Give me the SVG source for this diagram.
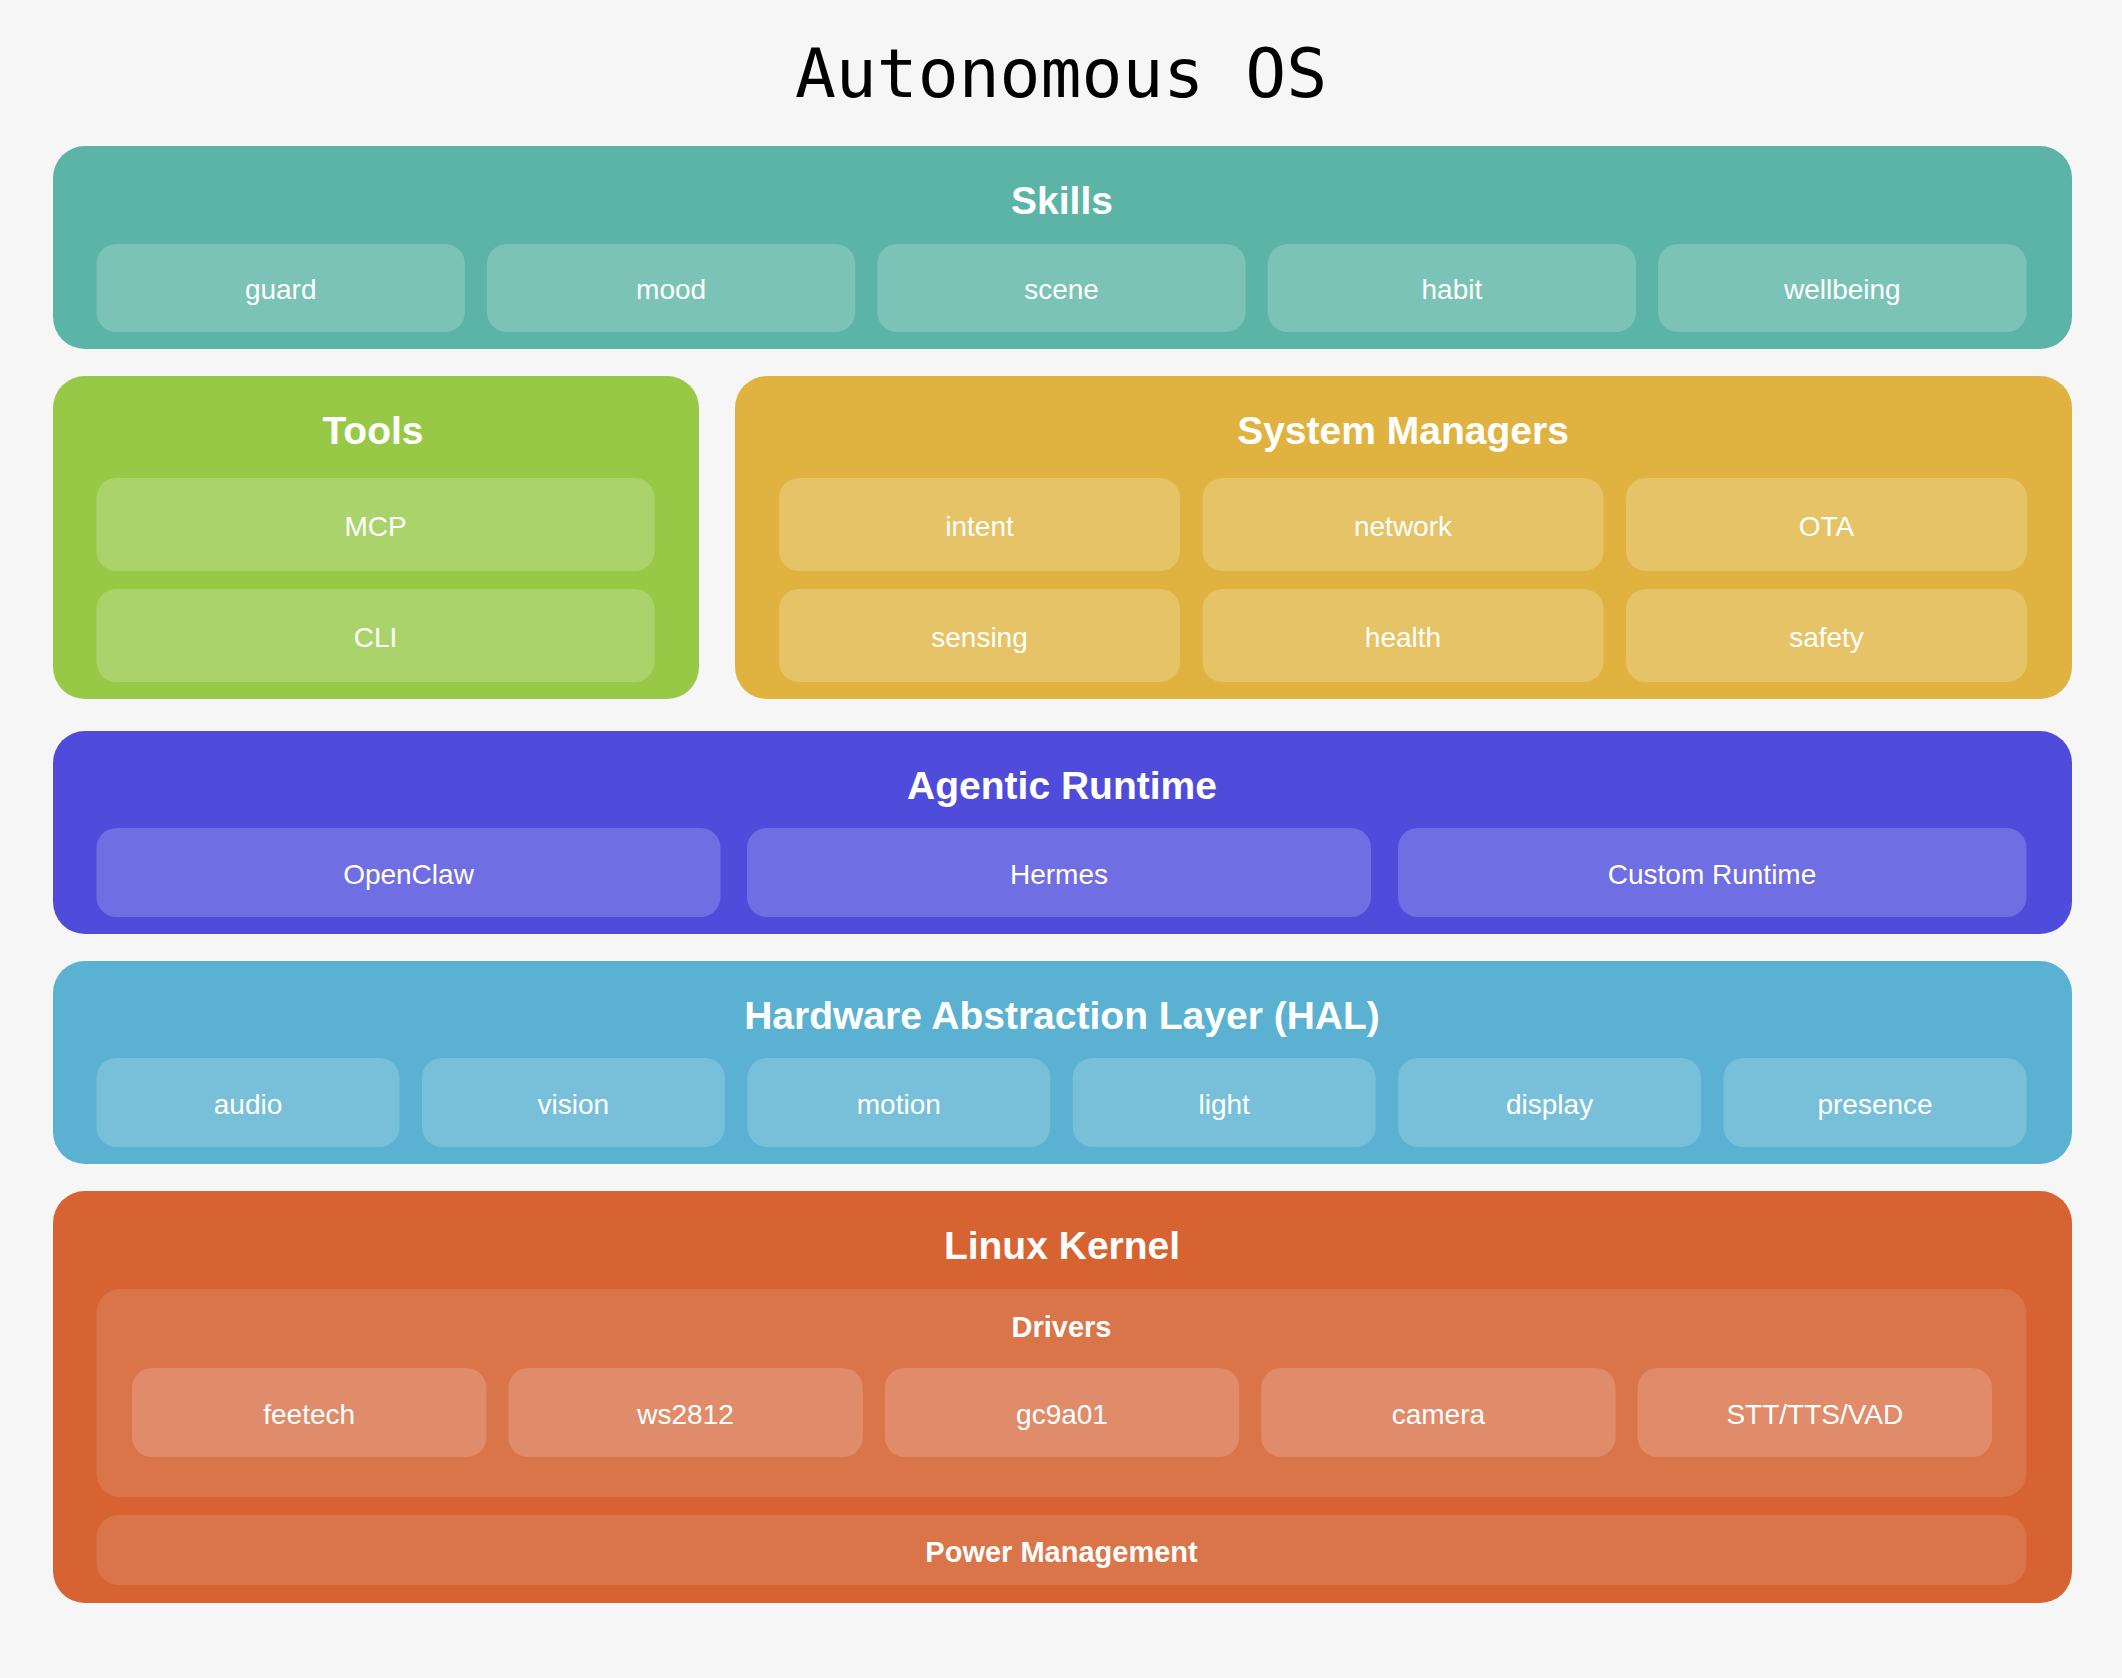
<svg xmlns="http://www.w3.org/2000/svg" width="2122" height="1678" viewBox="0 0 2122 1678">
<style>
.title{font-family:"DejaVu Sans Mono","Liberation Mono",monospace;font-size:68px;fill:#000;text-anchor:middle}
.h{font-family:"Liberation Sans",Arial,sans-serif;font-weight:700;font-size:39px;fill:#fff;text-anchor:middle}
.h2{font-family:"Liberation Sans",Arial,sans-serif;font-weight:700;font-size:29px;fill:#fff;text-anchor:middle}
.l{font-family:"Liberation Sans",Arial,sans-serif;font-size:28px;fill:#fff;text-anchor:middle}
</style>
<rect x="0" y="0" width="2122" height="1678" fill="#F6F6F6"/>
<text class="title" x="1061" y="97">Autonomous OS</text>

<g id="skills">
<rect x="53" y="146" width="2019" height="203" rx="32" fill="#5CB4A7"/>
<text class="h" x="1062" y="214">Skills</text>
<g fill="#7BC3B7">
<rect x="96.5" y="244" width="368.4" height="88" rx="20"/>
<rect x="486.9" y="244" width="368.4" height="88" rx="20"/>
<rect x="877.3" y="244" width="368.4" height="88" rx="20"/>
<rect x="1267.7" y="244" width="368.4" height="88" rx="20"/>
<rect x="1658.1" y="244" width="368.4" height="88" rx="20"/>
</g>
<text class="l" x="280.7" y="299">guard</text>
<text class="l" x="671.1" y="299">mood</text>
<text class="l" x="1061.5" y="299">scene</text>
<text class="l" x="1451.9" y="299">habit</text>
<text class="l" x="1842.3" y="299">wellbeing</text>
</g>

<g id="tools">
<rect x="53" y="376" width="646" height="323" rx="32" fill="#97C947"/>
<text class="h" x="373" y="444">Tools</text>
<g fill="#AAD46B">
<rect x="96.5" y="478" width="558" height="93" rx="20"/>
<rect x="96.5" y="589" width="558" height="93" rx="20"/>
</g>
<text class="l" x="375.5" y="536">MCP</text>
<text class="l" x="375.5" y="647">CLI</text>
</g>

<g id="system-managers">
<rect x="735" y="376" width="1337" height="323" rx="32" fill="#E0B340"/>
<text class="h" x="1403" y="444">System Managers</text>
<g fill="#E6C366">
<rect x="779" y="478" width="401" height="93" rx="20"/>
<rect x="1202.5" y="478" width="401" height="93" rx="20"/>
<rect x="1626" y="478" width="401" height="93" rx="20"/>
<rect x="779" y="589" width="401" height="93" rx="20"/>
<rect x="1202.5" y="589" width="401" height="93" rx="20"/>
<rect x="1626" y="589" width="401" height="93" rx="20"/>
</g>
<text class="l" x="979.5" y="536">intent</text>
<text class="l" x="1403" y="536">network</text>
<text class="l" x="1826.5" y="536">OTA</text>
<text class="l" x="979.5" y="647">sensing</text>
<text class="l" x="1403" y="647">health</text>
<text class="l" x="1826.5" y="647">safety</text>
</g>

<g id="agentic-runtime">
<rect x="53" y="731" width="2019" height="203" rx="32" fill="#4F4CDB"/>
<text class="h" x="1062" y="799">Agentic Runtime</text>
<g fill="#706EE3">
<rect x="96.5" y="828" width="624" height="89" rx="20"/>
<rect x="747" y="828" width="624" height="89" rx="20"/>
<rect x="1398" y="828" width="628.5" height="89" rx="20"/>
</g>
<text class="l" x="408.5" y="884">OpenClaw</text>
<text class="l" x="1059" y="884">Hermes</text>
<text class="l" x="1712" y="884">Custom Runtime</text>
</g>

<g id="hal">
<rect x="53" y="961" width="2019" height="203" rx="32" fill="#5AB1D1"/>
<text class="h" x="1062" y="1029">Hardware Abstraction Layer (HAL)</text>
<g fill="#78C0DA">
<rect x="96.5" y="1058" width="303" height="89" rx="20"/>
<rect x="421.9" y="1058" width="303" height="89" rx="20"/>
<rect x="747.3" y="1058" width="303" height="89" rx="20"/>
<rect x="1072.7" y="1058" width="303" height="89" rx="20"/>
<rect x="1398.1" y="1058" width="303" height="89" rx="20"/>
<rect x="1723.5" y="1058" width="303" height="89" rx="20"/>
</g>
<text class="l" x="248" y="1114">audio</text>
<text class="l" x="573.4" y="1114">vision</text>
<text class="l" x="898.8" y="1114">motion</text>
<text class="l" x="1224.2" y="1114">light</text>
<text class="l" x="1549.6" y="1114">display</text>
<text class="l" x="1875" y="1114">presence</text>
</g>

<g id="linux-kernel">
<rect x="53" y="1191" width="2019" height="412" rx="32" fill="#D66331"/>
<text class="h" x="1062" y="1259">Linux Kernel</text>
<g id="drivers">
<rect x="96.5" y="1289" width="1930" height="208" rx="24" fill="#D97549"/>
<text class="h2" x="1061.5" y="1337">Drivers</text>
<g fill="#E08C6B">
<rect x="132" y="1368" width="354.4" height="89" rx="20"/>
<rect x="508.4" y="1368" width="354.4" height="89" rx="20"/>
<rect x="884.8" y="1368" width="354.4" height="89" rx="20"/>
<rect x="1261.2" y="1368" width="354.4" height="89" rx="20"/>
<rect x="1637.6" y="1368" width="354.4" height="89" rx="20"/>
</g>
<text class="l" x="309.2" y="1424">feetech</text>
<text class="l" x="685.6" y="1424">ws2812</text>
<text class="l" x="1062" y="1424">gc9a01</text>
<text class="l" x="1438.4" y="1424">camera</text>
<text class="l" x="1814.8" y="1424">STT/TTS/VAD</text>
</g>
<g id="power-management">
<rect x="96.5" y="1515" width="1930" height="70" rx="22" fill="#D97549"/>
<text class="h2" x="1061.5" y="1562">Power Management</text>
</g>
</g>
<g id="connectors"/>
</svg>
